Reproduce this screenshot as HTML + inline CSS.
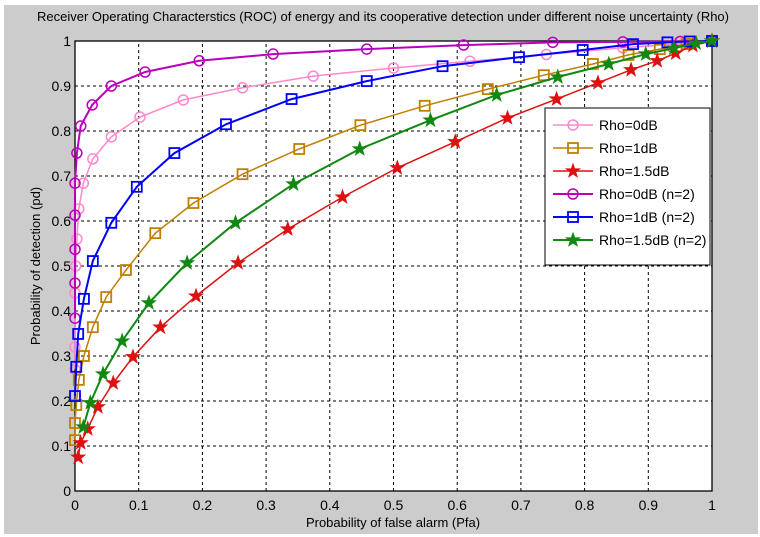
<!DOCTYPE html>
<html><head><meta charset="utf-8"><style>
html,body{margin:0;padding:0;background:#fff;}
svg{display:block;font-family:"Liberation Sans",sans-serif;}
</style></head><body>
<svg id="chart" width="760" height="537" viewBox="0 0 760 537" xmlns="http://www.w3.org/2000/svg">
<rect x="4" y="5" width="754" height="529" fill="#cccccc"/>
<rect x="75" y="41" width="637" height="450" fill="#fff"/>
<g id="grid"></g>
<g id="axes"></g>
<g id="series"></g>
<text x="383" y="21" font-size="13" text-anchor="middle" fill="#000">Receiver Operating Characterstics (ROC) of energy and its cooperative detection under different noise uncertainty (Rho)</text>
<text x="393" y="527" font-size="13" text-anchor="middle" fill="#000">Probability of false alarm (Pfa)</text>
<text transform="translate(40,266) rotate(-90)" font-size="13" text-anchor="middle" fill="#000">Probability of detection (pd)</text>
<g id="legend"></g>
</svg>
<script>
const xTicks=[0,0.1,0.2,0.3,0.4,0.5,0.6,0.7,0.8,0.9,1];
const yTicks=[0,0.1,0.2,0.3,0.4,0.5,0.6,0.7,0.8,0.9,1];
const xTickLabels=["0","0.1","0.2","0.3","0.4","0.5","0.6","0.7","0.8","0.9","1"];
const yTickLabels=["0","0.1","0.2","0.3","0.4","0.5","0.6","0.7","0.8","0.9","1"];
const seriesNames=["Rho=0dB","Rho=1dB","Rho=1.5dB","Rho=0dB (n=2)","Rho=1dB (n=2)","Rho=1.5dB (n=2)"];
const pinkX=[0,0,0,0.001,0.003,0.006,0.013,0.028,0.057,0.102,0.170,0.263,0.374,0.50,0.62,0.74,0.86,0.96,1];
const pinkY=[0.27,0.32,0.44,0.50,0.56,0.627,0.684,0.738,0.787,0.831,0.869,0.896,0.922,0.94,0.955,0.97,0.985,0.995,1];
const brownX=[0,0,0.002,0.006,0.014,0.028,0.049,0.080,0.126,0.186,0.263,0.352,0.448,0.549,0.648,0.736,0.813,0.869,0.918,0.96,1];
const brownY=[0.113,0.151,0.191,0.247,0.30,0.364,0.431,0.491,0.573,0.640,0.704,0.76,0.813,0.856,0.893,0.924,0.949,0.969,0.982,0.993,1];
const redX=[0.005,0.009,0.02,0.036,0.06,0.091,0.134,0.19,0.256,0.334,0.42,0.506,0.597,0.679,0.756,0.821,0.873,0.914,0.943,0.97,1];
const redY=[0.075,0.107,0.138,0.187,0.24,0.298,0.364,0.433,0.507,0.582,0.653,0.718,0.776,0.829,0.871,0.907,0.936,0.956,0.973,0.99,1];
const magentaX=[0,0,0,0,0,0.003,0.009,0.027,0.057,0.110,0.195,0.311,0.458,0.61,0.75,0.86,0.95,1];
const magentaY=[0.384,0.462,0.537,0.613,0.684,0.751,0.811,0.858,0.9,0.931,0.956,0.971,0.982,0.991,0.997,0.998,0.999,1];
const blueX=[0,0.002,0.005,0.014,0.028,0.057,0.097,0.156,0.237,0.340,0.458,0.577,0.697,0.797,0.876,0.93,0.965,1];
const blueY=[0.211,0.276,0.349,0.427,0.511,0.596,0.676,0.751,0.815,0.871,0.911,0.944,0.964,0.98,0.993,0.997,0.999,1];
const greenX=[0.013,0.024,0.044,0.074,0.116,0.176,0.252,0.343,0.447,0.558,0.662,0.758,0.838,0.896,0.940,0.975,1];
const greenY=[0.142,0.196,0.26,0.333,0.418,0.507,0.596,0.682,0.76,0.824,0.88,0.92,0.949,0.971,0.984,0.995,1];

const NS="http://www.w3.org/2000/svg";
const X0=75,X1=712,Y0=491,Y1=41;
function sx(v){return X0+v*(X1-X0);}
function sy(v){return Y0-v*(Y0-Y1);}
function mk(tag,attrs,parent){const e=document.createElementNS(NS,tag);for(const k in attrs)e.setAttribute(k,attrs[k]);parent.appendChild(e);return e;}

const grid=document.getElementById('grid');
xTicks.forEach((t,i)=>{
  if(i>0&&i<xTicks.length-1){
    const l=mk('line',{x1:sx(t),x2:sx(t),y1:Y0,y2:Y1,stroke:'#000','stroke-dasharray':'3,3','stroke-width':1},grid);
    
    
  }
});
yTicks.forEach((t,i)=>{
  if(i>0&&i<yTicks.length-1){
    const l=mk('line',{x1:X0,x2:X1,y1:sy(t),y2:sy(t),stroke:'#000','stroke-dasharray':'3,3','stroke-width':1},grid);
    
    
  }
});
const axes=document.getElementById('axes');
const frame=mk('rect',{x:X0,y:Y1,width:X1-X0,height:Y0-Y1,fill:'none',stroke:'#000','stroke-width':1.3},axes);


xTicks.forEach((t,i)=>{
  const tx=mk('text',{x:sx(t),y:Y0+19,'font-size':14,'text-anchor':'middle',fill:'#000'},axes);
  tx.textContent=xTickLabels[i];
  
  
});
yTicks.forEach((t,i)=>{
  const tx=mk('text',{x:X0-4,y:sy(t)+5,'font-size':14,'text-anchor':'end',fill:'#000'},axes);
  tx.textContent=yTickLabels[i];
  
  
});

function star(cx,cy,r){let p=[];for(let i=0;i<10;i++){const a=-Math.PI/2+i*Math.PI/5;const rr=i%2?r*0.4:r;p.push((cx+rr*Math.cos(a)).toFixed(1)+','+(cy+rr*Math.sin(a)).toFixed(1));}return p.join(' ');}
function marker(g,type,cx,cy,color){
  let m;
  if(type==='o')m=mk('circle',{cx:cx,cy:cy,r:5,fill:'none',stroke:color,'stroke-width':1.5},g);
  else if(type==='s')m=mk('rect',{x:cx-5,y:cy-5,width:10,height:10,fill:'none',stroke:color,'stroke-width':1.8},g);
  else m=mk('polygon',{points:star(cx,cy,7),fill:color,stroke:color,'stroke-width':1},g);
  return m;
}
const seriesDefs=[
 {x:pinkX,y:pinkY,c:'#ff88cc',m:'o',w:1.5,n:'series-rho-0db'},
 {x:brownX,y:brownY,c:'#bf7f00',m:'s',w:1.5,n:'series-rho-1db'},
 {x:redX,y:redY,c:'#dd1111',m:'*',w:1.5,n:'series-rho-1-5db'},
 {x:magentaX,y:magentaY,c:'#bb00bb',m:'o',w:2,n:'series-rho-0db-n2'},
 {x:blueX,y:blueY,c:'#0000ff',m:'s',w:2,n:'series-rho-1db-n2'},
 {x:greenX,y:greenY,c:'#118811',m:'*',w:2,n:'series-rho-1-5db-n2'}
];
const sg=document.getElementById('series');
seriesDefs.forEach(s=>{
  const g=mk('g',{},sg);
  
  
  const pts=s.x.map((v,i)=>sx(v).toFixed(1)+','+sy(s.y[i]).toFixed(1)).join(' ');
  const pl=mk('polyline',{points:pts,fill:'none',stroke:s.c,'stroke-width':s.w},g);
  
  
  s.x.forEach((v,i)=>{
    const m=marker(g,s.m,sx(v),sy(s.y[i]),s.c);
    
    
  });
});

const lg=document.getElementById('legend');
const lb=mk('rect',{x:545,y:108,width:165,height:157,fill:'#fff',stroke:'#000','stroke-width':1},lg);


seriesDefs.forEach((s,i)=>{
  const y=125+i*23;
  const g=mk('g',{},lg);
  
  
  mk('line',{x1:553,x2:593,y1:y,y2:y,stroke:s.c,'stroke-width':s.w},g);
  marker(g,s.m,573,y,s.c);
  const t=mk('text',{x:599,y:y+5,'font-size':14,fill:'#000'},g);
  t.textContent=seriesNames[i];
});
</script>
</body></html>
